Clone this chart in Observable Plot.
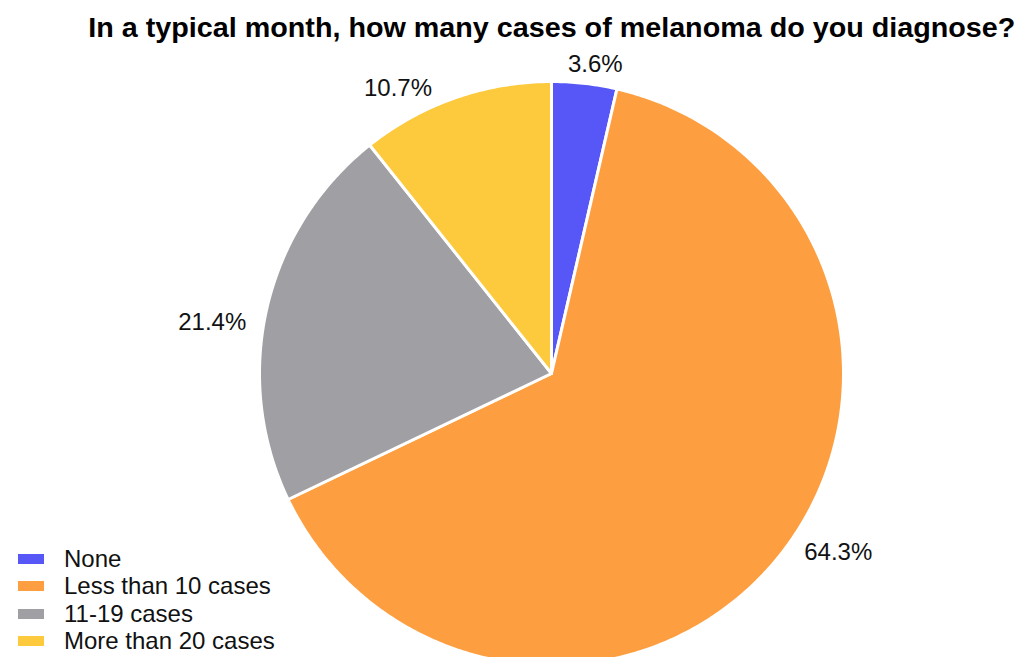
<!DOCTYPE html>
<html>
<head>
<meta charset="utf-8">
<script src="https://cdn.jsdelivr.net/npm/d3@7"></script>
<script src="https://cdn.jsdelivr.net/npm/@observablehq/plot@0.6"></script>
<style>
  body { margin: 0; background: #fff; }
  #wrap { position: relative; width: 1029px; height: 657px; overflow: hidden; background: #fff; }
  #wrap svg { position: absolute; left: 0; top: 0; }
  #title {
    position: absolute; left: 0; top: 13px; width: 1103px; text-align: center;
    font-family: "Liberation Sans Narrow", "Liberation Sans", Arial, sans-serif;
    font-weight: bold; font-size: 27px; color: #000; white-space: nowrap;
  }
  #title span { display: inline-block; transform-origin: center; }
  #legend {
    position: absolute; left: 18px; top: 545px;
    font-family: "Liberation Sans", Arial, sans-serif; font-size: 24px; color: #111;
  }
  .item { display: flex; align-items: center; height: 27.5px; }
  .sw { width: 26px; height: 10px; margin-right: 20px; }
</style>
</head>
<body>
<div id="wrap">
  <div id="title"><span>In a typical month, how many cases of melanoma do you diagnose?</span></div>
  <div id="legend"></div>
</div>
<script>
// Survey answers and their shares (percent)
const categories = ["None", "Less than 10 cases", "11-19 cases", "More than 20 cases"];
const shares = [3.6, 64.3, 21.4, 10.7];
const colors = ["#5757f7", "#fd9f40", "#a09fa4", "#fdca3d"];

const W = 1029, H = 657;
const cx = 551, cy = 373, R = 292;   // pie centre and radius in pixels

const rows = categories.map((c, i) => ({category: c, share: shares[i]}));
const arcs = d3.pie().sort(null).value(d => d.share)(rows);

// Polygon outline of each slice (unit radius, y up), angles clockwise from 12 o'clock
const outline = [];
for (const a of arcs) {
  const cat = a.data.category;
  outline.push({category: cat, x: 0, y: 0});
  const n = Math.max(2, Math.ceil((a.endAngle - a.startAngle) / 0.01));
  for (let k = 0; k <= n; k++) {
    const t = a.startAngle + (a.endAngle - a.startAngle) * k / n;
    outline.push({category: cat, x: Math.sin(t), y: Math.cos(t)});
  }
  outline.push({category: cat, x: 0, y: 0});
}

// Percentage labels just outside the rim
const labelR = 1.06, labelTurn = -0.06;
const labels = arcs.map(a => {
  const t = (a.startAngle + a.endAngle) / 2 + labelTurn;
  return {text: a.data.share.toFixed(1) + "%", x: labelR * Math.sin(t), y: labelR * Math.cos(t), right: Math.sin(t) >= 0};
});

const font = "Liberation Sans, Arial, sans-serif";
const chart = Plot.plot({
  width: W, height: H,
  margin: 0,
  x: {domain: [-cx / R, (W - cx) / R], axis: null},
  y: {domain: [-(H - cy) / R, cy / R], axis: null},
  color: {domain: categories, range: colors},
  marks: [
    Plot.line(outline, {x: "x", y: "y", z: "category", fill: "category", stroke: "white", strokeWidth: 3, strokeLinejoin: "round", curve: "linear"}),
    Plot.text(labels.filter(d => d.right), {x: "x", y: "y", text: "text", textAnchor: "start", lineAnchor: "middle", fontSize: 24, fill: "#111", fontFamily: font}),
    Plot.text(labels.filter(d => !d.right), {x: "x", y: "y", text: "text", textAnchor: "end", lineAnchor: "middle", fontSize: 24, fill: "#111", fontFamily: font})
  ]
});
document.getElementById("wrap").prepend(chart);

// Legend
const legend = document.getElementById("legend");
categories.forEach((c, i) => {
  const item = document.createElement("div");
  item.className = "item";
  const sw = document.createElement("div");
  sw.className = "sw";
  sw.style.background = colors[i];
  const label = document.createElement("span");
  label.textContent = c;
  item.append(sw, label);
  legend.append(item);
});

// Stretch the title to its full line width
const span = document.querySelector("#title span");
const w = span.getBoundingClientRect().width;
span.style.transform = `scaleX(${927 / w})`;
</script>
</body>
</html>
